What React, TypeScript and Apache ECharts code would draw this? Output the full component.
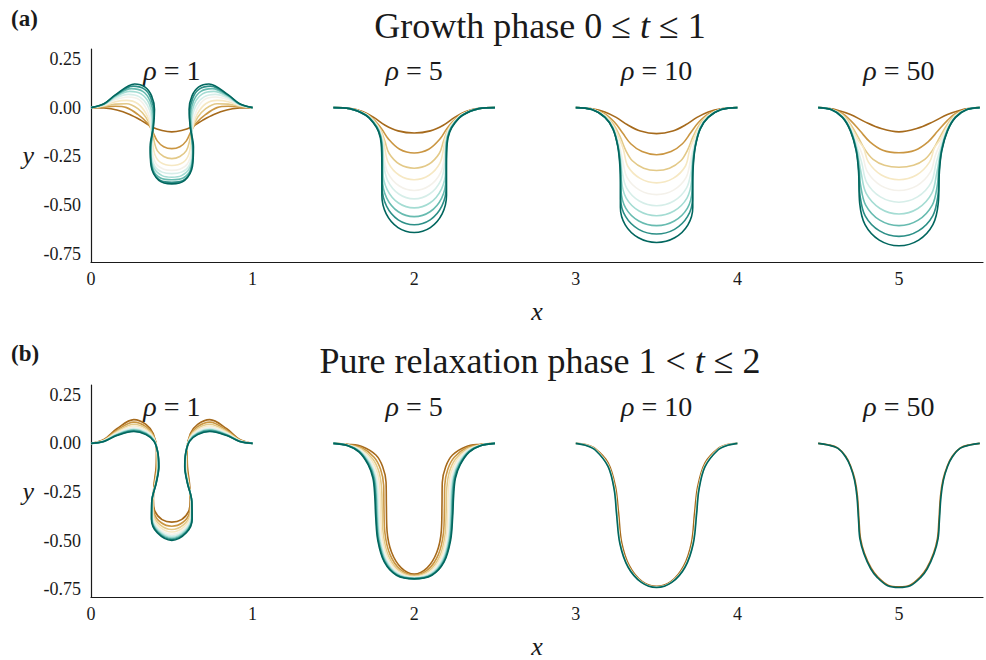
import React, { useEffect, useRef } from 'react';
import * as echarts from 'echarts';

// ---- data ----------------------------------------------------------------
const rhoValues = [1, 5, 10, 50];
const panelOffsets = [0, 1.5, 3, 4.5];
const rhoLabelX = [0.5, 2, 3.5, 5];
const rhoLabelY = 0.19;
const xTicks = [0, 1, 2, 3, 4, 5];
const yTicks = [-0.75, -0.5, -0.25, 0, 0.25];
const timeSteps = [1, 2, 3, 4, 5, 6, 7, 8, 9, 10];

// Left half of each symmetric profile: [x within the unit cell, y], from the rim to the centre.
// Growth phase, rho = 1 (one profile per time step)
const growthRho1 = [
  [[0, 0], [0.08, -0.002], [0.16, -0.012], [0.24, -0.035], [0.31, -0.065], [0.38, -0.1], [0.44, -0.117], [0.5, -0.124]],
  [[0, 0], [0.08, 0.004], [0.15, 0.007], [0.22, 0.0], [0.29, -0.035], [0.35, -0.08], [0.38, -0.12], [0.41, -0.17], [0.45, -0.2], [0.5, -0.21]],
  [[0, 0], [0.08, 0.007], [0.15, 0.018], [0.22, 0.02], [0.29, -0.005], [0.34, -0.05], [0.375, -0.11], [0.39, -0.17], [0.41, -0.22], [0.45, -0.25], [0.5, -0.261]],
  [[0, 0], [0.08, 0.01], [0.15, 0.03], [0.22, 0.037], [0.29, 0.02], [0.34, -0.03], [0.37, -0.1], [0.38, -0.17], [0.395, -0.24], [0.43, -0.28], [0.5, -0.296]],
  [[0, 0], [0.08, 0.013], [0.15, 0.04], [0.23, 0.054], [0.3, 0.04], [0.345, -0.01], [0.37, -0.08], [0.375, -0.16], [0.38, -0.23], [0.405, -0.29], [0.45, -0.315], [0.5, -0.321]],
  [[0, 0], [0.08, 0.015], [0.15, 0.048], [0.23, 0.068], [0.3, 0.055], [0.35, 0.01], [0.375, -0.07], [0.375, -0.15], [0.375, -0.23], [0.395, -0.3], [0.44, -0.33], [0.5, -0.338]],
  [[0, 0], [0.08, 0.016], [0.15, 0.055], [0.24, 0.083], [0.31, 0.07], [0.36, 0.02], [0.38, -0.06], [0.375, -0.15], [0.372, -0.24], [0.39, -0.31], [0.44, -0.348], [0.5, -0.356]],
  [[0, 0], [0.08, 0.018], [0.15, 0.06], [0.25, 0.097], [0.32, 0.083], [0.365, 0.035], [0.385, -0.04], [0.378, -0.13], [0.37, -0.23], [0.385, -0.32], [0.43, -0.36], [0.5, -0.369]],
  [[0, 0], [0.08, 0.019], [0.15, 0.063], [0.26, 0.11], [0.33, 0.095], [0.37, 0.05], [0.39, -0.03], [0.382, -0.12], [0.368, -0.22], [0.382, -0.32], [0.43, -0.373], [0.5, -0.382]],
  [[0, 0], [0.08, 0.02], [0.15, 0.065], [0.27, 0.121], [0.335, 0.105], [0.375, 0.06], [0.393, -0.01], [0.386, -0.1], [0.366, -0.2], [0.372, -0.3], [0.42, -0.372], [0.5, -0.39]],
];

// Growth phase, rho = 5
const growthRho5 = [
  [[0, 0], [0.1, -0.004], [0.18, -0.02], [0.25, -0.05], [0.32, -0.09], [0.4, -0.119], [0.5, -0.13]],
  [[0, 0], [0.1, -0.005], [0.2, -0.03], [0.26, -0.07], [0.3, -0.11], [0.34, -0.16], [0.41, -0.213], [0.5, -0.232]],
  [[0, 0], [0.1, -0.005], [0.2, -0.032], [0.25, -0.066], [0.29, -0.11], [0.318, -0.17], [0.345, -0.235], [0.41, -0.29], [0.5, -0.31]],
  [[0, 0], [0.1, -0.005], [0.2, -0.033], [0.25, -0.069], [0.288, -0.113], [0.31, -0.165], [0.316, -0.199], [0.341, -0.284], [0.408, -0.346], [0.5, -0.369]],
  [[0, 0], [0.1, -0.005], [0.2, -0.034], [0.25, -0.071], [0.286, -0.114], [0.306, -0.174], [0.312, -0.244], [0.337, -0.334], [0.406, -0.4], [0.5, -0.424]],
  [[0, 0], [0.1, -0.005], [0.2, -0.035], [0.25, -0.073], [0.284, -0.116], [0.304, -0.176], [0.309, -0.277], [0.335, -0.372], [0.405, -0.442], [0.5, -0.467]],
  [[0, 0], [0.1, -0.005], [0.2, -0.036], [0.25, -0.075], [0.283, -0.118], [0.302, -0.178], [0.306, -0.25], [0.306, -0.323], [0.332, -0.418], [0.403, -0.488], [0.5, -0.513]],
  [[0, 0], [0.1, -0.005], [0.2, -0.037], [0.25, -0.077], [0.282, -0.12], [0.3, -0.18], [0.304, -0.27], [0.304, -0.368], [0.33, -0.463], [0.402, -0.533], [0.5, -0.558]],
  [[0, 0], [0.1, -0.005], [0.2, -0.038], [0.25, -0.079], [0.281, -0.122], [0.298, -0.182], [0.302, -0.3], [0.302, -0.409], [0.329, -0.504], [0.401, -0.574], [0.5, -0.599]],
  [[0, 0], [0.1, -0.005], [0.2, -0.039], [0.25, -0.081], [0.28, -0.124], [0.296, -0.184], [0.3, -0.3], [0.3, -0.449], [0.327, -0.544], [0.4, -0.614], [0.5, -0.639]],
];

// Growth phase, rho = 10
const growthRho10 = [
  [[0, 0], [0.1, -0.006], [0.18, -0.022], [0.25, -0.05], [0.32, -0.088], [0.4, -0.12], [0.5, -0.133]],
  [[0, 0], [0.1, -0.007], [0.18, -0.032], [0.24, -0.075], [0.29, -0.13], [0.34, -0.185], [0.41, -0.225], [0.5, -0.241]],
  [[0, 0], [0.1, -0.008], [0.18, -0.037], [0.235, -0.087], [0.275, -0.15], [0.31, -0.22], [0.35, -0.272], [0.42, -0.31], [0.5, -0.322]],
  [[0, 0], [0.1, -0.008], [0.18, -0.04], [0.23, -0.092], [0.27, -0.16], [0.295, -0.215], [0.322, -0.3], [0.398, -0.362], [0.5, -0.385]],
  [[0, 0], [0.1, -0.009], [0.18, -0.043], [0.23, -0.097], [0.266, -0.18], [0.29, -0.27], [0.318, -0.358], [0.395, -0.422], [0.5, -0.445]],
  [[0, 0], [0.1, -0.009], [0.18, -0.045], [0.23, -0.1], [0.264, -0.19], [0.282, -0.27], [0.286, -0.322], [0.315, -0.412], [0.393, -0.478], [0.5, -0.502]],
  [[0, 0], [0.1, -0.01], [0.18, -0.047], [0.23, -0.104], [0.263, -0.2], [0.28, -0.3], [0.283, -0.373], [0.312, -0.463], [0.392, -0.529], [0.5, -0.553]],
  [[0, 0], [0.1, -0.01], [0.18, -0.048], [0.23, -0.106], [0.262, -0.2], [0.277, -0.3], [0.28, -0.424], [0.309, -0.514], [0.39, -0.58], [0.5, -0.604]],
  [[0, 0], [0.1, -0.01], [0.18, -0.049], [0.23, -0.108], [0.261, -0.2], [0.275, -0.3], [0.278, -0.38], [0.278, -0.467], [0.308, -0.557], [0.389, -0.623], [0.5, -0.647]],
  [[0, 0], [0.1, -0.01], [0.18, -0.05], [0.23, -0.11], [0.26, -0.2], [0.273, -0.3], [0.276, -0.4], [0.276, -0.51], [0.306, -0.6], [0.388, -0.666], [0.5, -0.69]],
];

// Growth phase, rho = 50
const growthRho50 = [
  [[0, 0], [0.06, -0.004], [0.12, -0.013], [0.2, -0.035], [0.29, -0.073], [0.39, -0.107], [0.5, -0.124]],
  [[0, 0], [0.08, -0.007], [0.15, -0.03], [0.2, -0.065], [0.26, -0.12], [0.32, -0.175], [0.4, -0.218], [0.5, -0.231]],
  [[0, 0], [0.08, -0.008], [0.15, -0.036], [0.2, -0.085], [0.25, -0.155], [0.29, -0.215], [0.34, -0.265], [0.41, -0.295], [0.5, -0.305]],
  [[0, 0], [0.08, -0.008], [0.15, -0.04], [0.2, -0.096], [0.245, -0.165], [0.28, -0.205], [0.311, -0.279], [0.391, -0.345], [0.5, -0.369]],
  [[0, 0], [0.08, -0.009], [0.15, -0.043], [0.2, -0.103], [0.242, -0.18], [0.275, -0.245], [0.305, -0.329], [0.388, -0.399], [0.5, -0.424]],
  [[0, 0], [0.08, -0.009], [0.15, -0.045], [0.2, -0.108], [0.24, -0.2], [0.27, -0.284], [0.301, -0.384], [0.385, -0.457], [0.5, -0.484]],
  [[0, 0], [0.08, -0.01], [0.15, -0.047], [0.2, -0.112], [0.238, -0.21], [0.266, -0.334], [0.297, -0.439], [0.383, -0.516], [0.5, -0.544]],
  [[0, 0], [0.08, -0.01], [0.15, -0.048], [0.2, -0.115], [0.237, -0.215], [0.255, -0.32], [0.262, -0.394], [0.294, -0.499], [0.381, -0.576], [0.5, -0.604]],
  [[0, 0], [0.08, -0.01], [0.15, -0.049], [0.2, -0.118], [0.236, -0.22], [0.252, -0.33], [0.259, -0.449], [0.291, -0.554], [0.38, -0.631], [0.5, -0.659]],
  [[0, 0], [0.08, -0.01], [0.15, -0.05], [0.2, -0.12], [0.235, -0.22], [0.25, -0.33], [0.257, -0.49], [0.29, -0.599], [0.378, -0.678], [0.5, -0.707]],
];

// Pure relaxation phase, rho = 1
const relaxRho1 = [
  [[0, 0], [0.08, 0.02], [0.16, 0.075], [0.265, 0.122], [0.34, 0.098], [0.385, 0.05], [0.405, -0.03], [0.403, -0.12], [0.39, -0.21], [0.386, -0.29], [0.396, -0.35], [0.44, -0.392], [0.5, -0.405]],
  [[0, 0], [0.08, 0.018], [0.16, 0.067], [0.265, 0.109], [0.34, 0.086], [0.386, 0.041], [0.407, -0.034], [0.407, -0.12], [0.393, -0.208], [0.384, -0.292], [0.391, -0.359], [0.433, -0.407], [0.5, -0.426]],
  [[0, 0], [0.08, 0.016], [0.16, 0.061], [0.265, 0.098], [0.34, 0.077], [0.387, 0.034], [0.409, -0.038], [0.41, -0.12], [0.396, -0.206], [0.382, -0.294], [0.387, -0.366], [0.428, -0.419], [0.5, -0.443]],
  [[0, 0], [0.08, 0.015], [0.16, 0.056], [0.265, 0.089], [0.34, 0.069], [0.388, 0.028], [0.41, -0.041], [0.412, -0.12], [0.398, -0.205], [0.381, -0.295], [0.384, -0.372], [0.424, -0.429], [0.5, -0.456]],
  [[0, 0], [0.08, 0.013], [0.16, 0.052], [0.265, 0.082], [0.34, 0.063], [0.388, 0.024], [0.411, -0.043], [0.414, -0.12], [0.4, -0.203], [0.379, -0.297], [0.381, -0.376], [0.42, -0.437], [0.5, -0.467]],
  [[0, 0], [0.08, 0.012], [0.16, 0.049], [0.265, 0.076], [0.34, 0.058], [0.389, 0.02], [0.412, -0.045], [0.416, -0.12], [0.401, -0.202], [0.378, -0.298], [0.38, -0.38], [0.418, -0.443], [0.5, -0.476]],
  [[0, 0], [0.08, 0.012], [0.16, 0.046], [0.265, 0.071], [0.34, 0.054], [0.389, 0.017], [0.413, -0.047], [0.417, -0.12], [0.403, -0.201], [0.377, -0.299], [0.378, -0.383], [0.415, -0.448], [0.5, -0.483]],
  [[0, 0], [0.08, 0.011], [0.16, 0.044], [0.265, 0.068], [0.34, 0.051], [0.39, 0.014], [0.413, -0.048], [0.418, -0.12], [0.403, -0.201], [0.377, -0.299], [0.376, -0.386], [0.413, -0.453], [0.5, -0.489]],
  [[0, 0], [0.08, 0.01], [0.16, 0.042], [0.265, 0.064], [0.34, 0.048], [0.39, 0.012], [0.414, -0.049], [0.419, -0.12], [0.404, -0.2], [0.376, -0.3], [0.375, -0.388], [0.412, -0.457], [0.5, -0.494]],
  [[0, 0], [0.08, 0.01], [0.16, 0.04], [0.265, 0.061], [0.34, 0.045], [0.39, 0.01], [0.414, -0.05], [0.42, -0.12], [0.405, -0.2], [0.376, -0.3], [0.374, -0.39], [0.41, -0.46], [0.5, -0.499]],
];

// Pure relaxation phase, rho = 5
const relaxRho5 = [
  [[0, 0], [0.09, -0.005], [0.18, -0.017], [0.263, -0.06], [0.305, -0.12], [0.326, -0.2], [0.328, -0.32], [0.332, -0.45], [0.36, -0.56], [0.42, -0.64], [0.5, -0.672]],
  [[0, 0], [0.09, -0.007], [0.176, -0.023], [0.252, -0.071], [0.292, -0.133], [0.311, -0.215], [0.313, -0.333], [0.319, -0.461], [0.35, -0.571], [0.413, -0.648], [0.5, -0.678]],
  [[0, 0], [0.09, -0.008], [0.172, -0.028], [0.244, -0.08], [0.281, -0.144], [0.298, -0.228], [0.302, -0.344], [0.309, -0.47], [0.342, -0.58], [0.408, -0.655], [0.5, -0.682]],
  [[0, 0], [0.09, -0.009], [0.169, -0.032], [0.237, -0.087], [0.273, -0.152], [0.288, -0.238], [0.292, -0.352], [0.301, -0.477], [0.336, -0.587], [0.404, -0.661], [0.5, -0.686]],
  [[0, 0], [0.09, -0.01], [0.167, -0.035], [0.231, -0.093], [0.265, -0.16], [0.28, -0.246], [0.284, -0.36], [0.294, -0.483], [0.33, -0.593], [0.4, -0.665], [0.5, -0.689]],
  [[0, 0], [0.09, -0.01], [0.165, -0.038], [0.227, -0.098], [0.26, -0.165], [0.274, -0.253], [0.279, -0.365], [0.289, -0.488], [0.326, -0.598], [0.398, -0.669], [0.5, -0.691]],
  [[0, 0], [0.09, -0.011], [0.163, -0.04], [0.223, -0.102], [0.255, -0.17], [0.268, -0.258], [0.273, -0.37], [0.285, -0.492], [0.323, -0.602], [0.395, -0.672], [0.5, -0.693]],
  [[0, 0], [0.09, -0.011], [0.162, -0.042], [0.22, -0.105], [0.252, -0.173], [0.264, -0.262], [0.269, -0.373], [0.281, -0.495], [0.32, -0.605], [0.393, -0.674], [0.5, -0.694]],
  [[0, 0], [0.09, -0.012], [0.161, -0.044], [0.217, -0.108], [0.248, -0.177], [0.26, -0.267], [0.265, -0.377], [0.278, -0.498], [0.317, -0.608], [0.392, -0.676], [0.5, -0.696]],
  [[0, 0], [0.09, -0.012], [0.16, -0.045], [0.215, -0.11], [0.245, -0.18], [0.256, -0.27], [0.262, -0.38], [0.275, -0.5], [0.315, -0.61], [0.39, -0.678], [0.5, -0.697]],
];

// Pure relaxation phase, rho = 10 (the other steps lie between these)
const relaxRho10Steps = [1, 4, 7, 10];
const relaxRho10 = [
  [[0, 0], [0.06, -0.006], [0.12, -0.027], [0.2, -0.1], [0.245, -0.22], [0.265, -0.36], [0.284, -0.51], [0.332, -0.63], [0.41, -0.71], [0.5, -0.735]],
  [[0, 0], [0.06, -0.008], [0.12, -0.031], [0.2, -0.112], [0.241, -0.232], [0.257, -0.361], [0.277, -0.514], [0.327, -0.634], [0.408, -0.713], [0.5, -0.739]],
  [[0, 0], [0.06, -0.009], [0.12, -0.033], [0.2, -0.117], [0.239, -0.237], [0.254, -0.361], [0.275, -0.515], [0.325, -0.636], [0.407, -0.714], [0.5, -0.74]],
  [[0, 0], [0.06, -0.01], [0.12, -0.034], [0.2, -0.12], [0.238, -0.24], [0.252, -0.361], [0.273, -0.516], [0.324, -0.637], [0.406, -0.715], [0.5, -0.741]],
];

// Pure relaxation phase, rho = 50 (all steps nearly coincide)
const relaxRho50Steps = [1, 10];
const relaxRho50 = [
  [[0, 0], [0.06, -0.007], [0.12, -0.023], [0.17, -0.066], [0.2, -0.115], [0.227, -0.186], [0.243, -0.272], [0.253, -0.4], [0.262, -0.49], [0.286, -0.565], [0.328, -0.642], [0.368, -0.686], [0.432, -0.729], [0.5, -0.738]],
  [[0, 0], [0.06, -0.008], [0.12, -0.025], [0.17, -0.07], [0.2, -0.12], [0.225, -0.19], [0.24, -0.275], [0.25, -0.4], [0.258, -0.49], [0.283, -0.568], [0.325, -0.645], [0.365, -0.689], [0.43, -0.732], [0.5, -0.741]],
];

// ---- styling ---------------------------------------------------------------
const palette = ['#a66a1c', '#ca9642', '#e3c988', '#f6e8c3', '#f4f1ea', '#d6eee9', '#a4dcd3', '#67bbb0', '#2c8f87', '#01665e'];
const serif = "'Liberation Serif', 'DejaVu Serif', serif";
const ink = '#1a1a1a';

function fullProfile(half: number[][], offset: number): number[][] {
  const left = half.map(([x, y]) => [offset + x, y]);
  const right = half
    .slice(0, -1)
    .reverse()
    .map(([x, y]) => [offset + 1 - x, y]);
  return left.concat(right);
}

function familySeries(halves: number[][][], steps: number[], panel: number, grid: number) {
  return halves.map((half, i) => ({
    type: 'line',
    xAxisIndex: grid,
    yAxisIndex: grid,
    data: fullProfile(half, panelOffsets[panel]),
    smooth: 0.35,
    symbol: 'none',
    silent: true,
    lineStyle: { width: 1.6, color: palette[steps[i] - 1] },
    itemStyle: { color: palette[steps[i] - 1] },
  }));
}

function rhoLabelSeries(grid: number) {
  return {
    type: 'scatter',
    xAxisIndex: grid,
    yAxisIndex: grid,
    symbolSize: 0,
    silent: true,
    itemStyle: { color: '#ffffff', opacity: 1 },
    data: rhoLabelX.map((x, i) => [x, rhoLabelY, rhoValues[i]]),
    label: {
      show: true,
      position: 'inside',
      color: ink,
      opacity: 1,
      textBorderWidth: 0,
      formatter: (p: any) => `{i|ρ}{n| = ${p.value[2]}}`,
      rich: {
        i: { fontFamily: serif, fontStyle: 'italic', fontSize: 28, color: ink, textBorderWidth: 0 },
        n: { fontFamily: serif, fontSize: 28, color: ink, textBorderWidth: 0 },
      },
    },
  };
}

function xAxis(grid: number) {
  return {
    type: 'value',
    gridIndex: grid,
    min: 0,
    max: 5.52,
    interval: 1,
    name: 'x',
    nameLocation: 'middle',
    nameGap: 36,
    nameTextStyle: { fontFamily: serif, fontStyle: 'italic', fontSize: 26, color: ink },
    axisLine: { show: true, onZero: false, lineStyle: { color: ink, width: 1.2 } },
    axisTick: { show: false },
    splitLine: { show: false },
    axisLabel: {
      margin: 8,
      fontFamily: serif,
      fontSize: 18,
      color: ink,
      formatter: (v: number) => (xTicks.includes(v) ? String(v) : ''),
    },
  };
}

function yAxis(grid: number) {
  return {
    type: 'value',
    gridIndex: grid,
    min: -0.79,
    max: 0.3,
    interval: 0.01,
    name: 'y',
    nameLocation: 'middle',
    nameRotate: 0,
    nameGap: 57,
    nameTextStyle: { fontFamily: serif, fontStyle: 'italic', fontSize: 26, color: ink },
    axisLine: { show: true, onZero: false, lineStyle: { color: ink, width: 1.2 } },
    axisTick: { show: false },
    splitLine: { show: false },
    axisLabel: {
      margin: 10,
      fontFamily: serif,
      fontSize: 18,
      color: ink,
      formatter: (v: number) => (yTicks.some((t) => Math.abs(t - v) < 1e-6) ? v.toFixed(2) : ''),
    },
  };
}

function heading(text: string, x: number, y: number) {
  return {
    type: 'text',
    x,
    y,
    silent: true,
    style: {
      text,
      align: 'center',
      verticalAlign: 'middle',
      rich: {
        n: { fontFamily: serif, fontSize: 36, fill: ink },
        i: { fontFamily: serif, fontStyle: 'italic', fontSize: 36, fill: ink },
      },
    },
  };
}

function panelTag(text: string, x: number, y: number) {
  return {
    type: 'text',
    x,
    y,
    silent: true,
    style: { text, fontFamily: serif, fontWeight: 'bold', fontSize: 23, fill: ink, verticalAlign: 'middle' },
  };
}

export default function App() {
  const ref = useRef<HTMLDivElement>(null);

  useEffect(() => {
    if (!ref.current) return;
    const chart = echarts.init(ref.current, undefined, { renderer: 'svg' });

    const series: any[] = [
      ...familySeries(growthRho1, timeSteps, 0, 0),
      ...familySeries(growthRho5, timeSteps, 1, 0),
      ...familySeries(growthRho10, timeSteps, 2, 0),
      ...familySeries(growthRho50, timeSteps, 3, 0),
      ...familySeries(relaxRho1, timeSteps, 0, 1),
      ...familySeries(relaxRho5, timeSteps, 1, 1),
      ...familySeries(relaxRho10, relaxRho10Steps, 2, 1),
      ...familySeries(relaxRho50, relaxRho50Steps, 3, 1),
      rhoLabelSeries(0),
      rhoLabelSeries(1),
    ];

    chart.setOption({
      animation: false,
      backgroundColor: '#ffffff',
      grid: [
        { left: 91, top: 49, width: 894, height: 213 },
        { left: 91, top: 385, width: 894, height: 212 },
      ],
      xAxis: [xAxis(0), xAxis(1)],
      yAxis: [yAxis(0), yAxis(1)],
      series,
      graphic: [
        heading('{n|Growth phase 0 ≤ }{i|t}{n| ≤ 1}', 540, 26),
        heading('{n|Pure relaxation phase 1 < }{i|t}{n| ≤ 2}', 540, 361),
        panelTag('(a)', 11, 18),
        panelTag('(b)', 11, 353),
      ],
    });

    return () => chart.dispose();
  }, []);

  return (
    <div
      ref={ref}
      style={{ position: 'fixed', left: 0, top: 0, width: 986, height: 660, background: '#fff' }}
    />
  );
}
